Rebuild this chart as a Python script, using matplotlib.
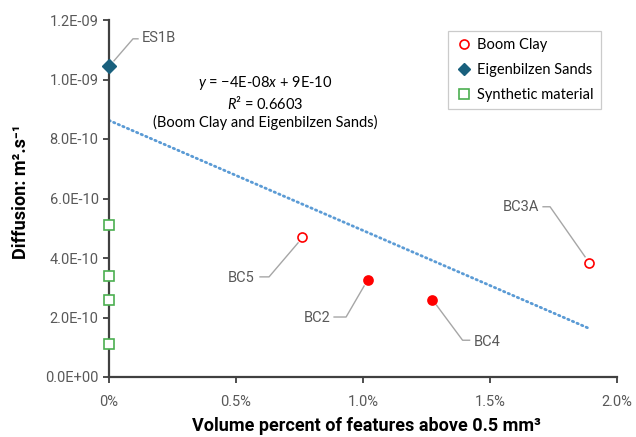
import numpy as np
import matplotlib
matplotlib.use("Agg")
import matplotlib.pyplot as plt
from matplotlib.lines import Line2D
from matplotlib.transforms import ScaledTranslation

# Diffusion data (volume fraction of large features vs diffusion coefficient)
boom_names = ["BC5", "BC2", "BC4", "BC3A"]
boom_x = [0.0076, 0.0102, 0.0127, 0.0189]
boom_y = [4.71e-10, 3.26e-10, 2.58e-10, 3.84e-10]
boom_filled = [False, True, True, False]

sands_names = ["ES1B"]
sands_x = [0.0]
sands_y = [1.046e-9]

synth_x = [0.0, 0.0, 0.0, 0.0]
synth_y = [5.11e-10, 3.38e-10, 2.58e-10, 1.12e-10]

x_ticks = [0.0, 0.005, 0.010, 0.015, 0.020]
x_tick_labels = ["0%", "0.5%", "1.0%", "1.5%", "2.0%"]
y_ticks = [0, 2e-10, 4e-10, 6e-10, 8e-10, 1.0e-9, 1.2e-9]
y_tick_labels = ["0.0E+00", "2.0E-10", "4.0E-10", "6.0E-10", "8.0E-10", "1.0E-09", "1.2E-09"]

RED = "#ff0000"
TEAL = "#19607d"
GREEN = "#4caf50"
GREY_TXT = "#595959"
LEADER = "#a6a6a6"

plt.rcParams["font.family"] = ["Roboto", "DejaVu Sans"]
plt.rcParams["mathtext.fontset"] = "custom"
plt.rcParams["mathtext.rm"] = "Lato"
plt.rcParams["mathtext.it"] = "Lato:italic"

fig = plt.figure(figsize=(6.36, 4.37), dpi=100)
ax = fig.add_axes([109 / 636, 1 - 377 / 437, 508 / 636, 357 / 437])

# linear fit through Boom Clay + Eigenbilzen Sands
fit_x = np.array(sands_x + boom_x)
fit_y = np.array(sands_y + boom_y)
slope, icpt = np.polyfit(fit_x, fit_y, 1)
xs = np.array([0.0, max(boom_x)])
ax.plot(xs, slope * xs + icpt, color="#5b9bd5", lw=2, linestyle=(0, (0.5, 1.3)),
        dash_capstyle="round", zorder=2)

# markers
ax.plot(synth_x, synth_y, "s", ms=7.5, mfc="white", mec=GREEN, mew=1.2,
        clip_on=False, zorder=4)
ax.plot(sands_x, sands_y, "D", ms=7, mfc=TEAL, mec=TEAL, clip_on=False, zorder=4)
for x, y, f in zip(boom_x, boom_y, boom_filled):
    ax.plot(x, y, "o", ms=6.5, mfc=RED if f else "white", mec=RED, mew=1.2,
            clip_on=False, zorder=4)

# point labels with elbow leaders, given in pixels relative to the point
# (start, elbow, end of leader, text anchor, ha)
leaders = {
    "ES1B": ((5, 5), (24, 27), (29, 27), (33, 28), "left"),
    "BC5": ((-4, -6), (-33, -40), (-42, -40), (-48, -41), "right"),
    "BC2": ((-4, -6), (-22, -37), (-34, -37), (-38, -38), "right"),
    "BC4": ((5, -5), (31, -40), (38, -40), (42, -42), "left"),
    "BC3A": ((-4, 6), (-39, 56), (-46, 56), (-50, 56), "right"),
}
points = dict(zip(boom_names + sands_names, zip(boom_x + sands_x, boom_y + sands_y)))
for name, (s, e, t, txt, ha) in leaders.items():
    px, py = points[name]
    tr = fig.dpi_scale_trans + ScaledTranslation(px, py, ax.transData)
    xs_l = np.array([s[0], e[0], t[0]]) / 100
    ys_l = np.array([s[1], e[1], t[1]]) / 100
    ax.add_line(Line2D(xs_l, ys_l, transform=tr, color=LEADER, lw=1, clip_on=False))
    ax.annotate(name, (px, py), xytext=txt, textcoords="offset pixels",
                ha=ha, va="center", fontsize=10.5, color=GREY_TXT)

# trendline equation
ax.text(0.307, 0.77, "$y$ = \u22124E-08$x$ + 9E-10\n$R$\u00b2 = 0.6603\n(Boom Clay and Eigenbilzen Sands)",
        transform=ax.transAxes, ha="center", va="center", fontsize=10.5,
        family=["Lato", "DejaVu Sans"], linespacing=1.25, color="black")

ax.set_xlim(0, 0.02)
ax.set_ylim(0, 1.2e-9)
ax.set_xticks(x_ticks, x_tick_labels)
ax.set_yticks(y_ticks, y_tick_labels)
ax.tick_params(labelsize=10.5, labelcolor=GREY_TXT, color="#404040",
               length=4, width=1.3, direction="out")
ax.tick_params(axis="x", pad=9)
for side in ["top", "right"]:
    ax.spines[side].set_visible(False)
for side in ["left", "bottom"]:
    ax.spines[side].set_color("#404040")
    ax.spines[side].set_linewidth(1.6)

ax.set_xlabel("Volume percent of features above 0.5 mm\u00b3",
              fontsize=13, fontweight="bold", color="black")
ax.set_ylabel("Diffusion: m\u00b2.s\u207b\u00b9",
              fontsize=13, fontweight="bold", color="black")
ax.xaxis.set_label_coords(0.506, -0.113)
ax.yaxis.set_label_coords(-0.155, 0.52)

handles = [
    Line2D([], [], ls="none", marker="o", ms=6.5, mfc="white", mec=RED, mew=1.2),
    Line2D([], [], ls="none", marker="D", ms=6, mfc=TEAL, mec=TEAL),
    Line2D([], [], ls="none", marker="s", ms=7, mfc="white", mec=GREEN, mew=1.2),
]
leg = ax.legend(handles, ["Boom Clay", "Eigenbilzen Sands", "Synthetic material"],
                loc="upper left", bbox_to_anchor=(448 / 636, 1 - 31 / 437),
                bbox_transform=fig.transFigure, fancybox=False, edgecolor="#bfbfbf",
                prop={"family": ["Lato", "DejaVu Sans"], "size": 10.5},
                handletextpad=0.3, handlelength=1.2, labelspacing=0.75,
                borderpad=0.5, borderaxespad=0)
leg.get_frame().set_linewidth(0.9)

fig.savefig("out.png", dpi=100)
